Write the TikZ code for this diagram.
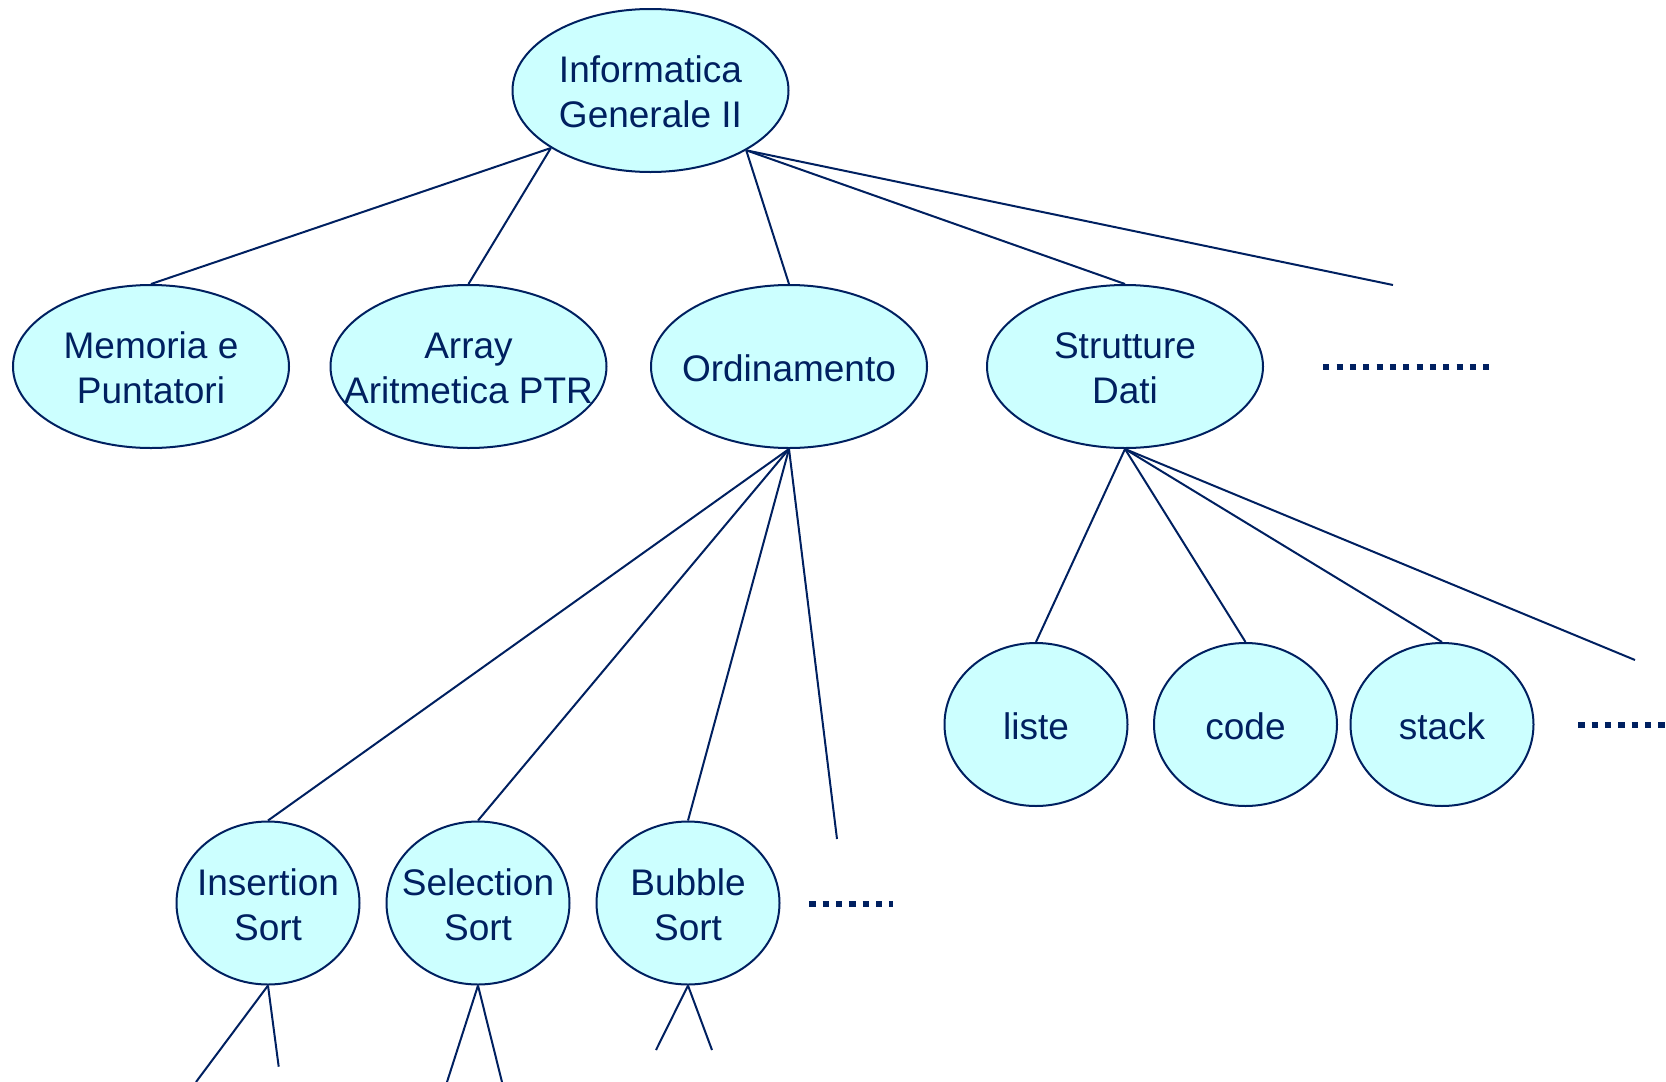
\documentclass[tikz,border=0pt]{standalone}
\usepackage{fontspec}
\setmainfont{Liberation Sans}
\usetikzlibrary{shapes.geometric}
\definecolor{navy}{RGB}{0,32,96}
\definecolor{topicfill}{RGB}{204,255,255}

\begin{document}
\begin{tikzpicture}[x=0.5pt,y=-0.5pt,
  caption/.style={text=navy, align=center, inner sep=0pt, yshift=-0.75pt,
    font=\fontsize{18.5}{22.5}\selectfont},
  topic/.style={ellipse, draw=navy, fill=topicfill, line width=1pt,
    inner sep=0pt, minimum width=138pt, minimum height=81.5pt,
    label={[caption]center:#1}},
  leaf/.style={topic={#1}, minimum width=91.5pt},
  link/.style={draw=navy, line width=1pt},
  more/.style={draw=navy, line width=3pt, dash pattern=on 3.2pt off 3.47pt}]

\useasboundingbox (0,0) rectangle (1666,1082);

% topics
\node[topic={Informatica\\Generale II}] (root) at (650.5,90.5) {};
\node[topic={Memoria e\\Puntatori}] (mem) at (151,366.5) {};
\node[topic={Array\\Aritmetica PTR}] (arr) at (468.5,366.5) {};
\node[topic={Ordinamento}] (ord) at (789,366.5) {};
\node[topic={Strutture\\Dati}] (dat) at (1125,366.5) {};

% sorting algorithms
\node[leaf={Insertion\\Sort}] (ins) at (268,903) {};
\node[leaf={Selection\\Sort}] (sel) at (478,903) {};
\node[leaf={Bubble\\Sort}] (bub) at (688,903) {};

% data structures
\node[leaf={liste}] (lst) at (1036,724.5) {};
\node[leaf={code}] (cod) at (1245.5,724.5) {};
\node[leaf={stack}] (stk) at (1442,724.5) {};

% open ends
\coordinate (rootmore) at (1393,285);
\coordinate (ordmore) at (837,839);
\coordinate (datmore) at (1635,660);
\coordinate (insA) at (196,1082);
\coordinate (insB) at (278.7,1066.7);
\coordinate (selA) at (447,1082);
\coordinate (selB) at (502,1082);
\coordinate (bubA) at (656,1050);
\coordinate (bubB) at (712,1050);

% connectors
\draw[link] (root.210.9) -- (mem.north);
\draw[link] (root.210.9) -- (arr.north);
\draw[link] (root.328.7) -- (ord.north);
\draw[link] (root.328.7) -- (dat.north);
\draw[link] (root.328.7) -- (rootmore);

\draw[link] (ord.south) -- (ins.north);
\draw[link] (ord.south) -- (sel.north);
\draw[link] (ord.south) -- (bub.north);
\draw[link] (ord.south) -- (ordmore);

\draw[link] (dat.south) -- (lst.north);
\draw[link] (dat.south) -- (cod.north);
\draw[link] (dat.south) -- (stk.north);
\draw[link] (dat.south) -- (datmore);

\draw[link] (ins.south) -- (insA);
\draw[link] (ins.south) -- (insB);
\draw[link] (sel.south) -- (selA);
\draw[link] (sel.south) -- (selB);
\draw[link] (bub.south) -- (bubA);
\draw[link] (bub.south) -- (bubB);

% ellipsis marks
\coordinate (d1a) at (1323.3,367);
\coordinate (d1b) at (1489.3,367);
\coordinate (d2a) at (809.3,903.5);
\coordinate (d2b) at (892.7,903.5);
\coordinate (d3a) at (1578.3,724.5);
\coordinate (d3b) at (1670,724.5);
\draw[more, dash pattern=on 3pt off 3.667pt] (d1a) -- (d1b);
\draw[more] (d2a) -- (d2b);
\draw[more] (d3a) -- (d3b);
\end{tikzpicture}
\end{document}
